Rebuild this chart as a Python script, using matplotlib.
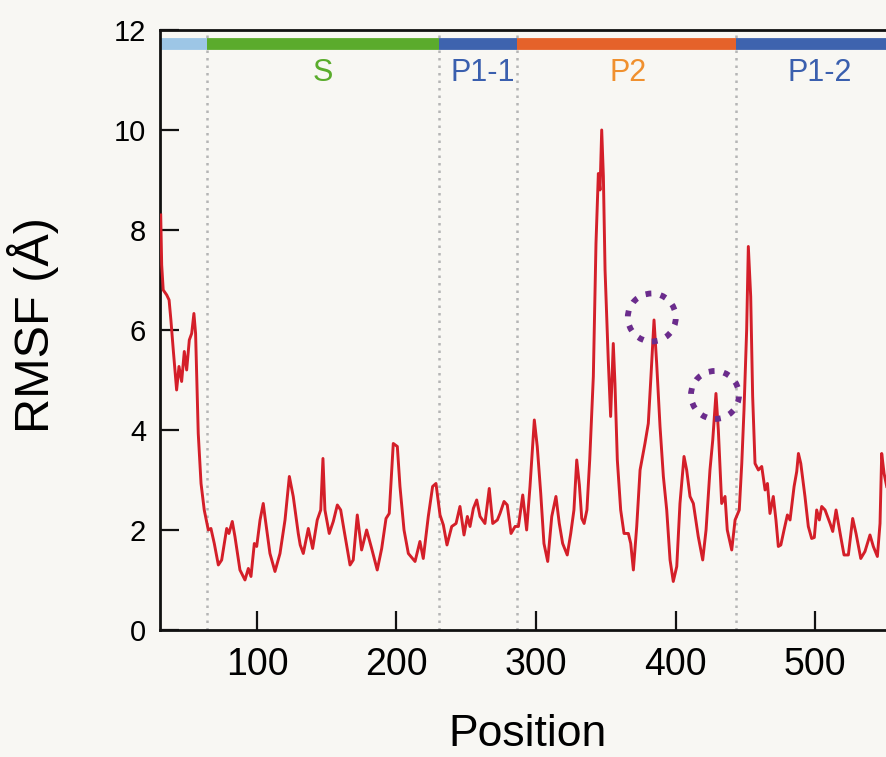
import matplotlib
matplotlib.use('Agg')
import matplotlib.pyplot as plt
from matplotlib.patches import Ellipse

# RMSF trace (residue position, RMSF in Angstrom)
position = [31, 31.7, 32.8, 35.3, 37, 38.3, 40, 42.4, 44.1, 46, 47.9, 49.6,
            51.5, 53.2, 54.8, 56, 57, 57.9, 59.9, 62.2, 65.1, 67, 69.4, 72.3,
            74.7, 78.3, 79.9, 82.3, 84.2, 87.8, 91.4, 93.8, 95.7, 98.1, 99.8,
            102.2, 104.5, 105.7, 109.3, 112.9, 116.5, 120.1, 123.2, 126,
            129.6, 131, 133.2, 136.8, 139.9, 143.2, 145.7, 147.3, 148.7,
            151.8, 154.7, 157.6, 160, 162.4, 166.7, 169, 171.9, 175, 178.6,
            182.2, 186.2, 189.4, 192.5, 194.8, 197.7, 200.6, 202.5, 205.4,
            208.5, 213.3, 216.8, 219.2, 222.8, 225.9, 228.3, 231.2, 233.6,
            236.2, 239.6, 242.7, 245.5, 248.4, 250.8, 252.7, 255.1, 257.5,
            259.9, 263.4, 266.5, 269, 272.3, 274.2, 277.1, 279.4, 282.1, 285,
            287.4, 290.5, 293.3, 295.7, 298.8, 300.9, 303.4, 305.7, 308.4,
            311.3, 314.3, 316.7, 319.1, 322.4, 324.9, 327.2, 329.2, 331.1,
            332.8, 334.5, 336.5, 338.5, 341.1, 343, 344.7, 345.9, 347.1,
            348.3, 349.5, 351.8, 353.5, 355.4, 356.6, 358.3, 360.7, 363.1,
            366.2, 367.9, 369.8, 372.2, 374.6, 378.1, 380.5, 382.4, 384.6,
            386.5, 388.9, 391.3, 393.7, 396.1, 398.4, 400.9, 403.2, 406.1,
            408, 410.4, 412.8, 416.3, 419.5, 421.9, 424.7, 426.7, 429, 430.7,
            433.1, 435.5, 437.1, 440.3, 442.7, 445.7, 447.5, 449.1, 451,
            452.2, 453.9, 455.3, 457, 459.4, 461.8, 464.2, 465.9, 467.7,
            470.1, 472, 473.7, 475.5, 477.8, 480.2, 482.1, 485, 486.9, 488.1,
            489.8, 492.8, 495.2, 497.6, 499.5, 501.2, 503.1, 504.8, 507.2,
            510.8, 512.7, 515.1, 518.4, 520.8, 523.9, 527, 529.4, 532.8,
            535.8, 539.4, 541.8, 544.7, 546.6, 547.8, 549.5, 551.4]
rmsf = [8.3, 7.3, 6.8, 6.7, 6.6, 6.2, 5.6, 4.8, 5.27, 4.97, 5.57, 5.2,
        5.8, 5.93, 6.33, 5.93, 4.87, 3.93, 2.93, 2.4, 2.0, 2.03, 1.73, 1.3,
        1.4, 2.03, 1.93, 2.17, 1.87, 1.2, 1.0, 1.23, 1.07, 1.73, 1.67,
        2.2, 2.53, 2.27, 1.53, 1.17, 1.53, 2.2, 3.07, 2.67,
        1.93, 1.7, 1.53, 2.03, 1.63, 2.2, 2.4, 3.43, 2.4,
        1.93, 2.17, 2.5, 2.4, 2.0, 1.3, 1.4, 2.3, 1.6, 2.0,
        1.63, 1.2, 1.63, 2.23, 2.33, 3.73, 3.67, 2.87, 2.0,
        1.53, 1.37, 1.77, 1.43, 2.27, 2.87, 2.93, 2.3, 2.1,
        1.7, 2.07, 2.13, 2.47, 1.9, 2.27, 2.07, 2.43, 2.6,
        2.27, 2.13, 2.83, 2.13, 2.2, 2.33, 2.57, 2.5, 1.93, 2.07,
        2.07, 2.7, 2.0, 2.87, 4.2, 3.67, 2.73, 1.73, 1.37,
        2.27, 2.67, 2.13, 1.73, 1.5, 1.93, 2.4, 3.4, 2.9,
        2.23, 2.13, 2.4, 3.4, 5.07, 7.73, 9.13, 8.8, 10.0,
        9.07, 7.2, 5.4, 4.27, 5.73, 4.93, 3.4, 2.4, 1.93,
        1.93, 1.73, 1.2, 2.07, 3.2, 3.73, 4.13, 5.07, 6.2,
        5.33, 4.07, 3.07, 2.4, 1.4, 0.97, 1.27, 2.53, 3.47,
        3.2, 2.67, 2.53, 1.87, 1.4, 2.0, 3.2, 3.8, 4.73, 4.0,
        2.53, 2.67, 2.0, 1.6, 2.2, 2.4, 3.33, 4.4, 6.0,
        7.67, 6.67, 4.67, 3.33, 3.2, 3.27, 2.8, 2.93, 2.33,
        2.67, 2.2, 1.67, 1.7, 2.0, 2.3, 2.2, 2.87, 3.17, 3.53,
        3.33, 2.67, 2.07, 1.83, 1.85, 2.4, 2.2, 2.47, 2.4,
        2.13, 1.97, 2.4, 1.87, 1.5, 1.5, 2.23, 1.93, 1.43,
        1.57, 1.9, 1.67, 1.47, 2.13, 3.53, 3.13, 2.87]

# domain bar along the top
domain_start = [30.5, 64, 230.5, 286.5, 443.5]
domain_end = [64, 230.5, 286.5, 443.5, 560]
domain_color = ['#9dc6e6', '#5bab2c', '#3e63ae', '#e5622a', '#3e63ae']
boundaries = [64, 230.5, 286.5, 443.5]

domain_names = ['S', 'P1-1', 'P2', 'P1-2']
name_x = [147, 262, 366, 503]
name_color = ['#5aac2c', '#3a5fae', '#f0902e', '#3a5fae']

# highlighted peaks (dotted circles)
circle_x = [383, 428.3]
circle_y = [6.25, 4.7]

fig = plt.figure(figsize=(8.87, 7.57), dpi=100, facecolor='#f8f7f3')
ax = fig.add_axes([0.1804, 0.1678, 0.8196, 0.7926])
ax.set_facecolor('#f8f7f3')

for b in boundaries:
    ax.axvline(b, color='#b5b5b5', lw=1.8, ls=(0, (1, 2)), zorder=1)

ax.plot(position, rmsf, color='#d41f29', lw=2.1, zorder=3)

for s, e, c in zip(domain_start, domain_end, domain_color):
    ax.hlines(11.72, s, e, colors=c, lw=8.5, zorder=2)

for n, x, c in zip(domain_names, name_x, name_color):
    ax.text(x, 11.14, n, color=c, fontsize=22, ha='center', va='center',
            family='Liberation Sans')

for cx, cy in zip(circle_x, circle_y):
    ax.add_patch(Ellipse((cx, cy), width=34.4, height=0.96, fill=False,
                         edgecolor='#6b2c8c', lw=4.2, ls=(0, (1, 1.6)),
                         zorder=4))

ax.set_xlim(30.5, 551.6)
ax.set_ylim(0, 12)
ax.set_xticks([100, 200, 300, 400, 500])
ax.set_yticks([0, 2, 4, 6, 8, 10, 12])

for sp in ['left', 'bottom', 'top']:
    ax.spines[sp].set_linewidth(2)
    ax.spines[sp].set_color('#111111')
ax.spines['right'].set_visible(False)

ax.tick_params(axis='both', direction='in', length=14, width=1.6,
               color='#111111')
ax.tick_params(axis='x', pad=12)
ax.tick_params(axis='y', pad=10)
for lab in ax.get_xticklabels():
    lab.set_family(['Liberation Sans Narrow', 'Liberation Sans'])
    lab.set_fontsize(27)
for lab in ax.get_yticklabels():
    lab.set_family('Liberation Sans')
    lab.set_fontsize(21)

ax.set_xlabel('Position', fontsize=32, family='Liberation Sans', va='center')
ax.xaxis.set_label_coords(0.506, -0.175)
ax.set_ylabel('RMSF (Å)', fontsize=35, family='Liberation Sans',
              va='center', ha='center')
ax.yaxis.set_label_coords(-0.175, 0.508)

fig.savefig('out.png', dpi=100, facecolor=fig.get_facecolor())
